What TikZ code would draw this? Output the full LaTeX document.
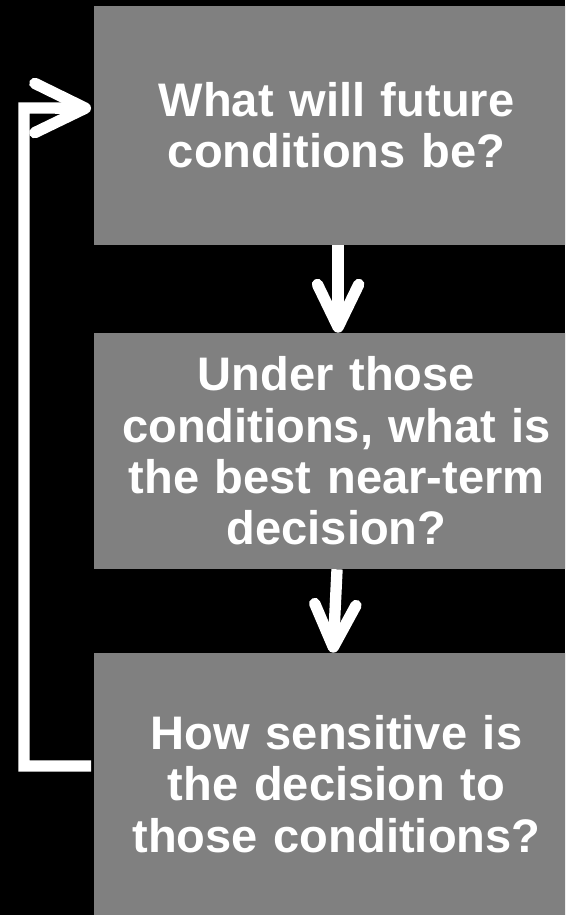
\documentclass[tikz,border=0pt]{standalone}
\usepackage{fontspec}
\setmainfont{Liberation Sans}
\usepackage{tikz}
\usetikzlibrary{arrows.meta,positioning}

\begin{document}
\begin{tikzpicture}[x=0.75pt,y=-0.75pt,
  question/.style={fill=gray,text=white,inner sep=0pt,
    minimum width=363.75pt,text width=355pt,align=center,
    font=\fontsize{35.3}{38.5}\selectfont\bfseries},
  flow/.style={white,line width=8.5pt,
    -{Straight Barb[length=32pt,width=31pt,round]}},
  feedback/.style={white,line width=8.5pt,
    -{Straight Barb[length=38pt,width=37pt,round]}}]
  \useasboundingbox (0,0) rectangle (565,915);
  \clip (0,0) rectangle (565,915);
  \fill[black] (0,0) rectangle (565,915);
  % the three questions
  \node[question,minimum height=179.25pt] (future) at (336.5,125.5)
    {What will future\\conditions be?};
  \node[question,minimum height=177pt] (decision) at (336.5,451)
    {Under those\\conditions, what is\\the best near-term\\decision?};
  \node[question,minimum height=196.5pt] (sensitivity) at (336.5,784)
    {How sensitive is\\the decision to\\those conditions?};
  % arrows
  \draw[flow] ([xshift=1.2pt]future.south) -- ([xshift=1.2pt]decision.north);
  \draw[flow] ([xshift=0.4pt]decision.south) -- ([xshift=-2.6pt]sensitivity.north);
  \coordinate (loop) at (24,108);
  \draw[feedback] ([xshift=-2pt,yshift=13.5pt]sensitivity.west) -| (loop)
    -- ([xshift=-2pt,yshift=13pt]future.west);
\end{tikzpicture}
\end{document}
